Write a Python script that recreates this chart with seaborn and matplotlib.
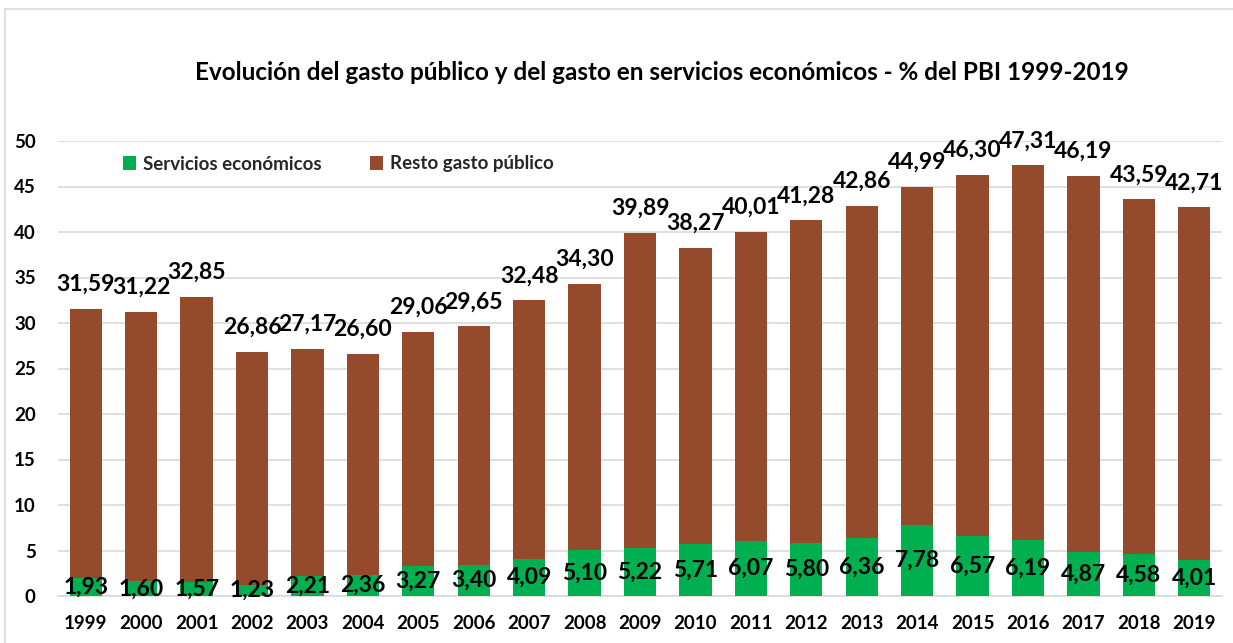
import matplotlib
matplotlib.use("Agg")
import matplotlib.pyplot as plt
from matplotlib import font_manager as fm
from matplotlib.lines import Line2D
from matplotlib.patches import Patch
import seaborn as sns
import pandas as pd

years = [str(y) for y in range(1999, 2020)]
servicios = [1.93, 1.60, 1.57, 1.23, 2.21, 2.36, 3.27, 3.40, 4.09, 5.10, 5.22,
             5.71, 6.07, 5.80, 6.36, 7.78, 6.57, 6.19, 4.87, 4.58, 4.01]
gasto_total = [31.59, 31.22, 32.85, 26.86, 27.17, 26.60, 29.06, 29.65, 32.48, 34.30,
               39.89, 38.27, 40.01, 41.28, 42.86, 44.99, 46.30, 47.31, 46.19, 43.59, 42.71]

GREEN = "#00B050"
BROWN = "#954B2B"


def bold_font(size):
    """Return a bold font property, preferring a real bold face file."""
    for name in ("Lato", "Open Sans", "Noto Sans", "Liberation Sans"):
        for f in fm.fontManager.ttflist:
            w = f.weight if isinstance(f.weight, int) else fm.weight_dict.get(f.weight, 400)
            if f.name == name and w == 700 and f.style == "normal":
                return fm.FontProperties(fname=f.fname, size=size)
    return fm.FontProperties(family="DejaVu Sans", weight="bold", size=size)


sns.set_theme(style="white")

df = pd.DataFrame({"anio": years, "servicios": servicios, "total": gasto_total})

fig = plt.figure(figsize=(12.33, 6.43), dpi=100)
ax = fig.add_axes([58 / 1233, 1 - 596 / 643, 1164 / 1233, 455 / 643])

# total spending drawn in brown, economic services overlaid in green
sns.barplot(data=df, x="anio", y="total", color=BROWN, saturation=1,
            width=0.58, linewidth=0, ax=ax, zorder=2)
sns.barplot(data=df, x="anio", y="servicios", color=GREEN, saturation=1,
            width=0.58, linewidth=0, ax=ax, zorder=3)

fmt = lambda v: f"{v:.2f}".replace(".", ",")
lbl_font = bold_font(16.5)
ax.bar_label(ax.containers[0], labels=[fmt(v) for v in gasto_total],
             padding=10, fontproperties=lbl_font, color="black", clip_on=False)
ax.bar_label(ax.containers[1], labels=[fmt(v) for v in servicios],
             label_type="center", fontproperties=lbl_font, color="black")

ax.set_ylim(0, 50)
ax.set_xlim(-0.5, 20.5)
ax.set_yticks(range(0, 51, 5))
ax.yaxis.grid(True, color="#D9D9D9", linewidth=1.2, zorder=0)
ax.set_axisbelow(True)
for s in ax.spines.values():
    s.set_visible(False)
ax.spines["bottom"].set_visible(True)
ax.spines["bottom"].set_color("#D9D9D9")
ax.spines["bottom"].set_linewidth(1.2)
ax.set_xlabel("")
ax.set_ylabel("")
ax.tick_params(axis="y", pad=16, length=0)
ax.tick_params(axis="x", pad=14, length=0)
tick_font = bold_font(13.5)
for t in ax.get_xticklabels() + ax.get_yticklabels():
    t.set_fontproperties(tick_font)
    t.set_color("black")

fig.text(0.537, 1 - 72 / 643,
         "Evolución del gasto público y del gasto en servicios económicos - % del PBI 1999-2019",
         ha="center", va="center", fontproperties=bold_font(17.5), color="black")

handles = [Patch(facecolor=GREEN, edgecolor="none", label="Servicios económicos"),
           Patch(facecolor=BROWN, edgecolor="none", label="Resto gasto público")]
ax.legend(handles=handles, loc="center left", bbox_to_anchor=(106 / 1233, 1 - 164 / 643),
          bbox_transform=fig.transFigure, ncol=2, frameon=False,
          handlelength=0.7, handleheight=0.7, handletextpad=0.35, columnspacing=2.6,
          prop=bold_font(13.5))

# light frame around the chart area
fig.add_artist(Line2D([5 / 1233, 5 / 1233], [0, 1 - 9 / 643], color="#D9D9D9",
                      linewidth=1.2, transform=fig.transFigure))
fig.add_artist(Line2D([5 / 1233, 1], [1 - 9 / 643, 1 - 9 / 643], color="#D9D9D9",
                      linewidth=1.2, transform=fig.transFigure))

fig.savefig("out.png", dpi=100, facecolor="white")
